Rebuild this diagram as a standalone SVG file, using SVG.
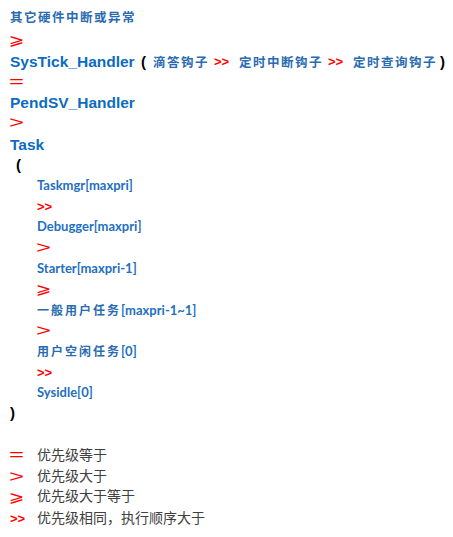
<svg xmlns="http://www.w3.org/2000/svg" width="453" height="537" viewBox="0 0 453 537">
<style>
.k{font-family:"Noto Sans CJK SC",sans-serif;font-size:12.5px;font-weight:bold;fill:#2a6bb0;letter-spacing:1.5px}
.h{font-family:"Liberation Sans",Arial,sans-serif;font-weight:bold;font-size:15.5px;fill:#0b6cbf}
.t{font-family:"Lato","Noto Sans CJK SC",sans-serif;font-weight:bold;font-size:13px;fill:#1f6fbf}
.tc{font-family:"Noto Sans CJK SC",sans-serif;font-weight:bold;font-size:12px;fill:#2a6bb0;letter-spacing:2px}
.r{font-family:"Liberation Sans",Arial,sans-serif;font-size:16px;fill:#ff0000}
.ge{font-family:"DejaVu Sans",sans-serif;font-size:15.5px;fill:#ff0000}
.rb{font-family:"Liberation Sans",Arial,sans-serif;font-weight:bold;font-size:13px;fill:#ff0000}
.p{font-family:"Liberation Sans",Arial,sans-serif;font-weight:bold;font-size:15px;fill:#000}
.g{font-family:"Noto Sans CJK SC",sans-serif;font-size:14px;fill:#404040}
</style>
<rect width="453" height="537" fill="#fff"/>
<g id="hw"><text class="k" x="10" y="22">其它硬件中断或异常</text></g>
<g id="rel1"><text class="ge" transform="translate(9,45) scale(1.2,1)">⩾</text></g>
<g id="systick">
<text class="h" x="10" y="67">SysTick_Handler</text>
<text class="p" x="141" y="67">(</text>
<text class="k" x="153" y="67">滴答钩子</text>
<text class="rb" x="214" y="66">&gt;&gt;</text>
<text class="k" x="239" y="67">定时中断钩子</text>
<text class="rb" x="328" y="66">&gt;&gt;</text>
<text class="k" x="353" y="67">定时查询钩子</text>
<text class="p" x="440" y="67">)</text>
</g>
<g id="rel2"><text class="r" transform="translate(9,87) scale(1.6,1)">=</text></g>
<g id="pendsv"><text class="h" x="10" y="108">PendSV_Handler</text></g>
<g id="rel3"><text class="r" transform="translate(9,128) scale(1.6,1)">&gt;</text></g>
<g id="task">
<text class="h" x="10" y="150">Task</text>
<text class="p" x="16" y="170">(</text>
<text class="t" x="37" y="190">Taskmgr[maxpri]</text>
<text class="rb" x="37" y="211">&gt;&gt;</text>
<text class="t" x="37" y="231">Debugger[maxpri]</text>
<text class="r" transform="translate(36,253) scale(1.6,1)">&gt;</text>
<text class="t" x="37" y="273">Starter[maxpri-1]</text>
<text class="ge" transform="translate(36,294) scale(1.2,1)">⩾</text>
<text x="37" y="315"><tspan class="tc">一般用户任务</tspan><tspan class="t">[maxpri-1~1]</tspan></text>
<text class="r" transform="translate(36,336) scale(1.6,1)">&gt;</text>
<text x="37" y="356"><tspan class="tc">用户空闲任务</tspan><tspan class="t">[0]</tspan></text>
<text class="rb" x="37" y="377">&gt;&gt;</text>
<text class="t" x="37" y="397">Sysidle[0]</text>
<text class="p" x="10" y="418">)</text>
</g>
<g id="legend">
<text class="r" transform="translate(9,460) scale(1.6,1)">=</text><text class="g" x="37" y="460">优先级等于</text>
<text class="r" transform="translate(9,482) scale(1.6,1)">&gt;</text><text class="g" x="37" y="481">优先级大于</text>
<text class="ge" transform="translate(9,502) scale(1.2,1)">⩾</text><text class="g" x="37" y="501">优先级大于等于</text>
<text class="rb" x="10" y="523">&gt;&gt;</text><text class="g" x="37" y="523">优先级相同，执行顺序大于</text>
</g>
</svg>
